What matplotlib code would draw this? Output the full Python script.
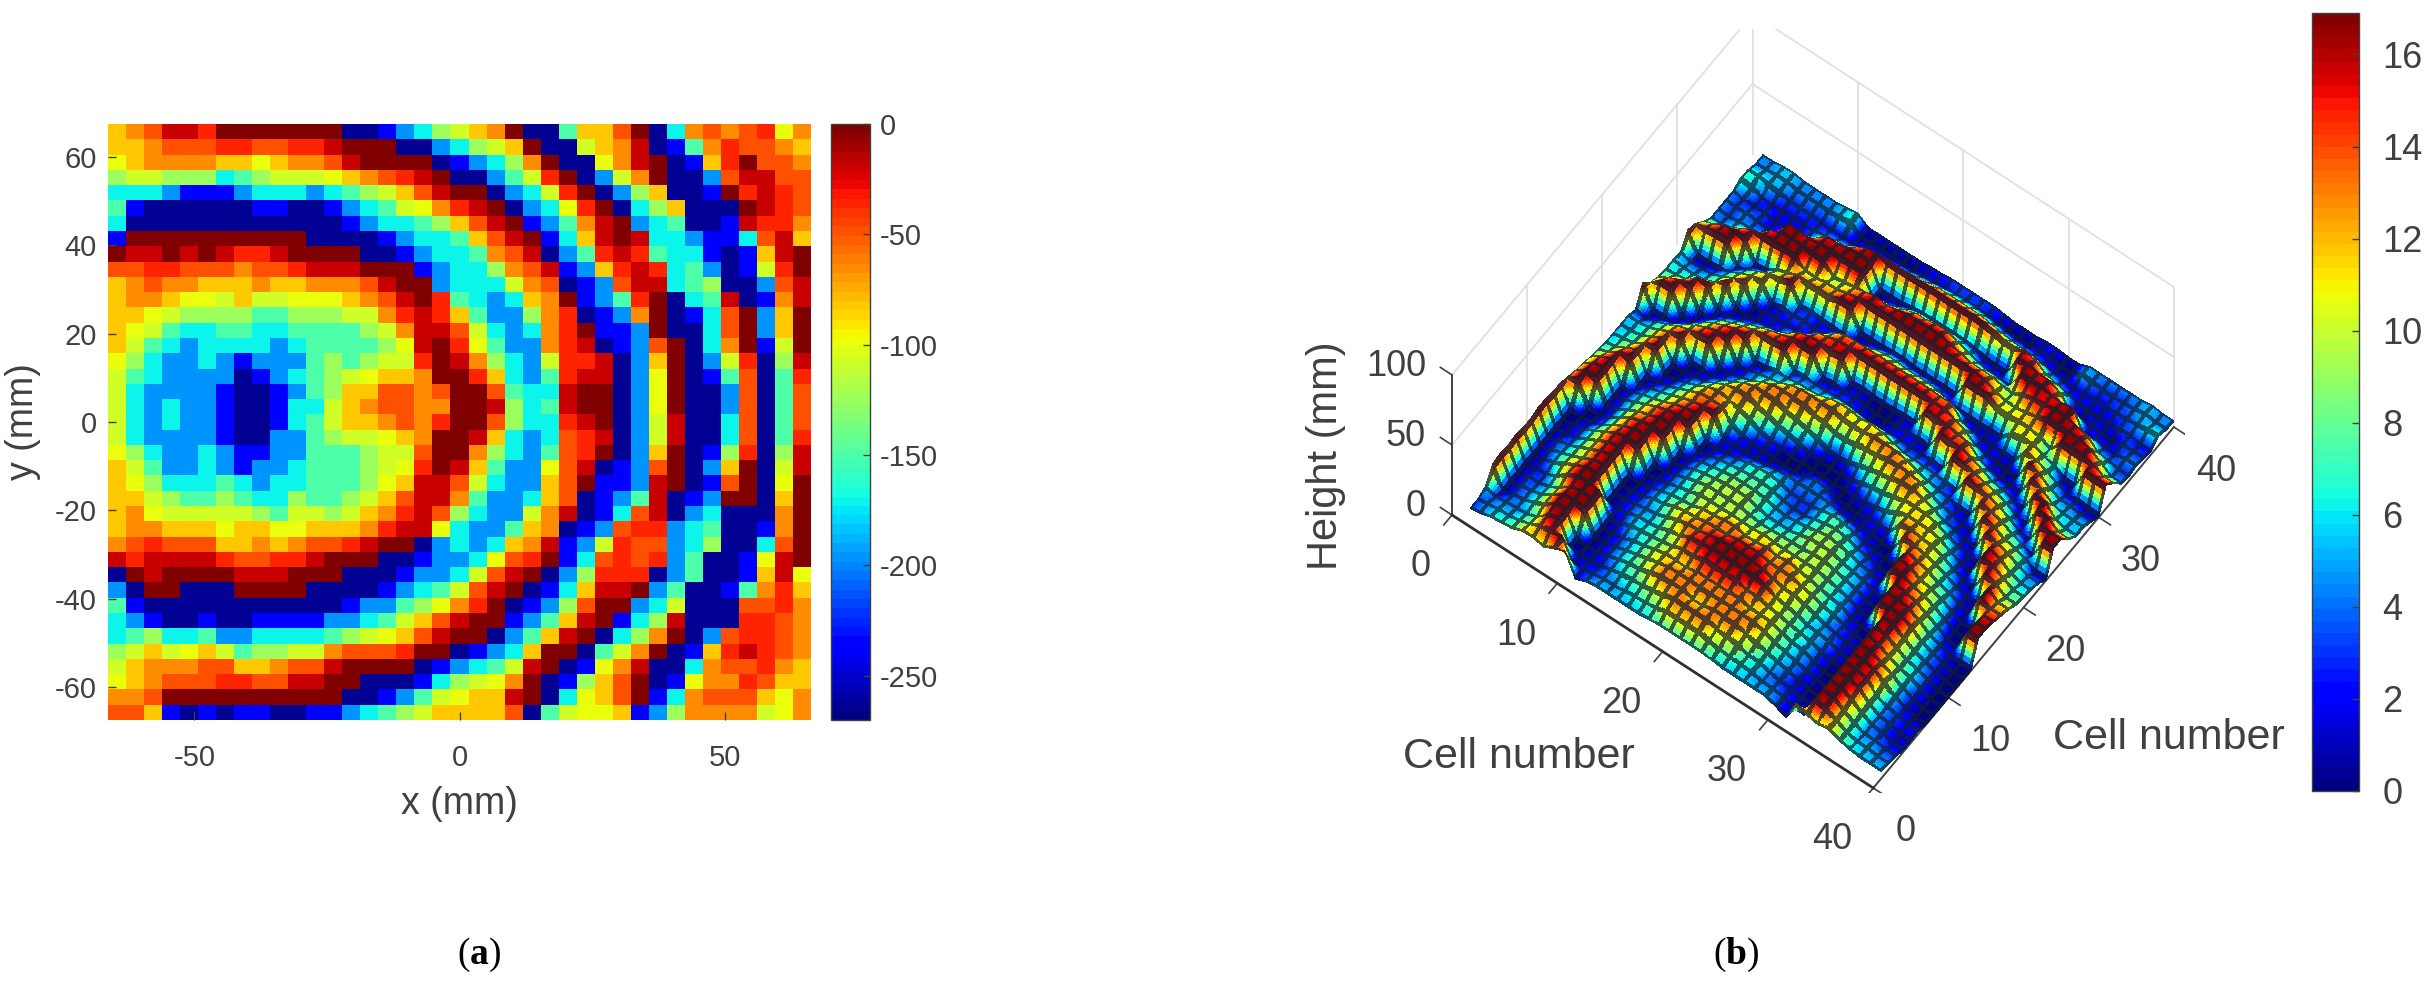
import numpy as np
import matplotlib
matplotlib.use("Agg")
import matplotlib.pyplot as plt
from matplotlib.cm import ScalarMappable
from matplotlib.colors import Normalize
from mpl_toolkits.mplot3d import proj3d

plt.rcParams['font.family'] = ['Liberation Sans', 'DejaVu Sans']
plt.rcParams['axes.unicode_minus'] = False
plt.rcParams['mathtext.fontset'] = 'custom'
plt.rcParams['mathtext.rm'] = 'Liberation Serif'
plt.rcParams['mathtext.bf'] = 'Liberation Serif:bold'

# Panel (a): cells, top row first. Code = colour band of the jet scale.
phase_rows = [
"89accbddddddd00123568" "9d00488ad039a9ab79",
"889aaabbaabbcddd00235" "68d00689c0149baa98",
"789999887899acdddd012" "359d0079cd018bdaa9",
"566555345666789abcd00" "246bd0269d002accaa",
"33321112333234568acdd" "0236bd0258001dbcba",
"4100000011001234679bc" "d0237bd0358000dcba",
"30000000000001233458a" "cd1249cd234001cbb9",
"1dddddddddd0000123348" "acd138cdc332113ac8",
"dccdcdcbbcdddd0012334" "9ac024bcb4331018cd",
"aabbaaa9aabcccddd1233" "59ac128bcb342016bd",
"89a99888988999acdd233" "369a012acc345002ac",
"899877686677789acdb43" "2389d124bd034c019c",
"8876555544555669bcb84" "2259b0129d013ad28d",
"87643344334444569cca6" "3239bd112d003ad28d",
"86432333323444457cdb7" "4229bc012ad039d16d",
"75322321222454566bdc9" "5326bbc028d026b05c",
"643222201234567889ddb" "8324bcc027d014a04b",
"632222100124588aa9add" "a433cdd027d002a04a",
"632322100133689aa99dd" "c534cdd027d002a04a",
"6323221001346889a9bdd" "a533bcd026c003a04a",
"632222100224566789ddc" "8323abc026c003a04b",
"75322321122444566add9" "5324abd028d015b05c",
"86422321223444567bdc8" "4227ac012ad028d06c",
"87533343233444578cca6" "3228ad112cd01ad07d",
"8865445433544568acc94" "2238a0124c012dd08d",
"8976666654665689bca53" "2269c013ac0230009d",
"899888788778889bcc732" "2489012abb2340019d",
"9abaaa88989aabcdd0232" "389c126baa235003ad",
"cbccccbaabbcddd001223" "7abd13abab240017cd",
"0dcddddcccddd00012236" "acd025bbb0240018c7",
"20dd000dddd000012346a" "cd0138ccd2400149b8",
"41000000000001224579b" "d0125add236000aab9",
"321001001111223468acd" "d1248cd135c000bba9",
"34533422333345678acdd" "0248cd0359d02abba9",
"5686786455669aaabdd01" "238dd0469d018bcba9",
"68999aa889aacdddd0123" "46cd0179c0039aab98",
"789aaabbaaccdd0001356" "79d0158ad01799ba88",
"99adddddddddd00124678" "8cd0378ad139aaa879",
"aa8101011001123456888" "8a0467781259999679",
]
phase_codes = "0123456789abcd"
phase_values = [-262, -238, -197, -170, -148, -124, -109, -100, -84, -65, -49, -34, -19, 0]

# Panel (b): heights at the 40 x 40 mesh nodes, first row is x = 1, each row runs y = 1..40.
height_rows = [
"335cdcdccddccba987555" "53d97665cb84444764" "4",
"4430000000000ddcb9765" "510da6530ca4333564" "4",
"654333223311" "00dddca87" "640dc8530dc6442355" "5",
"754443355433" "10000dcba" "9710dc641dda433245" "5",
"8757657988774333200dc" "ba500d9740dc521234" "4",
"a98aa9bbaaaa987653100" "db9510da840db32234" "4",
"abcddcddccccbba975310" "0cb9510ca81ddd2234" "4",
"9cddddddddddd" "cbb98642" "0dcb8300ba7ddd3324" "4",
"bd00ddd0000ddddcba973" "10dca5110b9ddc9425" "5",
"d010000111000dddcbba7" "310db8222db9ddc516" "6",
"121111233221000ddcbba" "6320ca3232b9ddc610" "1",
"43233355454332100dbab" "a541cb7233ba8dda30" "1",
"5445556556655542116ab" "b954dcb322ba9ddc40" "1",
"54677777897787542138a" "bb741dca31dbaddd40" "1",
"55789989aa89987531149" "bba53dcb91dcb00d50" "1",
"568aaa9abaa9998651137" "abb530ccb10dc30d60" "1",
"579bbabcbba9998762015" "9bb631dcb30db50d71" "2",
"68abbabccbb9998773004" "8ab9320db50dc82d81" "2",
"7abbbbcddbb9877654001" "5aba321db71dda3d92" "3",
"7ababbcddca9755434200" "38aa210db71dda3d93" "3",
"7ababbcddcaa754334400" "18a9100db60ddb3d93" "3",
"7abbbbcddcb9855334300" "39aa100db60ddb3d93" "3",
"79abbbbdcba9876554002" "5ab9211db60dc93d92" "3",
"68abbabcbbb9898772014" "8ab7221db50db72d81" "2",
"579abaaaaba9999861026" "9bb421dcb30da40c70" "1",
"5679aa99aa99998741137" "aba420ccb0dda30b50" "1",
"556788889988877421259" "bb842dcb40dca30b50" "1",
"544566757766654" "31029a" "ba540cb920da91dc41" "2",
"543445554554443100baa" "a743dcb311a98ddb31" "2",
"33223334332111000cbaa" "8431cb5212a9bdc720" "1",
"01101012210000ddcbaa9" "431db92129aacdc510" "1",
"c0000000000ddddcbaa95" "310ca5101aabcca315" "4",
"a" "dddddddddddd" "cbaa9853" "10cb9410ba9ddc1224" "4",
"9cddddddccddcba976421" "0dba620da85ddd0123" "4",
"aaabcccbaaaba98753100" "dba720db85ddc02123" "4",
"877888a987776543210dd" "b9720db740ddb31133" "4",
"654444556544310000dcb" "a840dd6410dc520334" "4",
"5543332233221000ddba8" "750dd7541dc9423345" "5",
"543112" "0000000" "ddcba875" "40dd95530da4343264" "4",
"543112" "0000000" "ddcba875" "40dd95530da4343264" "4",
]
height_codes = "0123456789abcd"
height_values = [0.0, 1.2, 2.1, 3.1, 4.3, 5.5, 6.5, 7.2, 8.2, 9.7, 11.2, 13.2, 15.2, 16.6]

x_ticks_a = [-50, 0, 50]
y_ticks_a = [-60, -40, -20, 0, 20, 40, 60]
cbar_ticks_a = [-250, -200, -150, -100, -50, 0]
cell_ticks = [0, 10, 20, 30, 40]
height_ticks = [0, 50, 100]
cbar_ticks_b = [0, 2, 4, 6, 8, 10, 12, 14, 16]

W, H = 2424, 986
TXT = '#404040'
fig = plt.figure(figsize=(W / 100, H / 100), dpi=100, facecolor='white')


def rect(x0, y0, x1, y1):
    return [x0 / W, 1 - y1 / H, (x1 - x0) / W, (y1 - y0) / H]


def put(px, py, s, **kw):
    kw.setdefault('color', TXT)
    return fig.text(px / W, 1 - py / H, s, **kw)


jet = plt.get_cmap('jet', 64)

# ---------- panel (a)
assert len(phase_rows) == 39 and all(len(r) == 39 for r in phase_rows)
lut_a = dict(zip(phase_codes, phase_values))
phase = np.array([[lut_a[c] for c in r] for r in phase_rows], float)
axa = fig.add_axes(rect(108, 124, 811, 720))
norm_a = Normalize(-270, 0)
axa.pcolormesh(np.linspace(-66.3, 66.3, 40), np.linspace(67.5, -67.5, 40), phase,
               cmap=jet, norm=norm_a)
axa.set_xlim(-66.3, 66.3)
axa.set_ylim(-67.5, 67.5)
axa.set_xticks(x_ticks_a)
axa.set_yticks(y_ticks_a)
axa.tick_params(direction='in', length=6, width=1, color=TXT, labelcolor=TXT, labelsize=21, pad=8)
axa.tick_params(axis='x', pad=17)
for s in axa.spines.values():
    s.set_visible(False)
axa.set_xlabel('x (mm)', fontsize=27, color=TXT, labelpad=10)
axa.set_ylabel('y (mm)', fontsize=27, color=TXT, labelpad=10)

caxa = fig.add_axes(rect(831, 124, 870, 720))
cba = fig.colorbar(ScalarMappable(norm_a, jet), cax=caxa, ticks=cbar_ticks_a)
cba.ax.tick_params(direction='in', length=5, width=1, color=TXT, labelcolor=TXT, labelsize=21, pad=7)
cba.ax.set_yticks(cbar_ticks_a, [str(t) for t in cbar_ticks_a])
cba.outline.set_edgecolor(TXT)
cba.outline.set_linewidth(1)

# ---------- panel (b)
assert len(height_rows) == 40
for r in height_rows:
    assert len(r) == 40, (r, len(r))
lut_b = dict(zip(height_codes, height_values))
Z = np.array([[lut_b[c] for c in r] for r in height_rows], float)

ax3 = fig.add_axes(rect(1300, 0, 2200, 900), projection='3d', computed_zorder=False,
                   proj_type='ortho')
ax3.set_xlim(0, 40)
ax3.set_ylim(0, 40)
ax3.set_zlim(0, 100)
ax3.view_init(elev=61.9, azim=-53.7)
ax3.set_box_aspect((522, 507, 297), zoom=1)
ax3.set_axis_off()
ax3.patch.set_alpha(0)


def to_px(x, y, z):
    X, Y, _ = proj3d.proj_transform(x, y, z, ax3.get_proj())
    dx, dy = ax3.transData.transform((X, Y))
    return np.array([dx, H - dy])


fig.canvas.draw()
S = 900 * 502.0 / np.linalg.norm(to_px(40, 0, 0) - to_px(0, 0, 0))
ax3.set_position(rect(1300, 0, 1300 + S, S))
fig.canvas.draw()
shift = np.array([1452.0, 515.0]) - to_px(0, 0, 0)
ax3.set_position(rect(1300 + shift[0], shift[1], 1300 + S + shift[0], S + shift[1]))
fig.canvas.draw()

# walls behind the surface
GRID = '#e0e0e0'
for zv in height_ticks[1:]:
    ax3.plot([0, 0], [0, 40], [zv, zv], color=GRID, lw=1.3, zorder=1)
    ax3.plot([0, 40], [40, 40], [zv, zv], color=GRID, lw=1.3, zorder=1)
for t in cell_ticks[1:]:
    ax3.plot([0, 0], [t, t], [0, 100], color=GRID, lw=1.3, zorder=1)
    ax3.plot([t, t], [40, 40], [0, 100], color=GRID, lw=1.3, zorder=1)

# axes lines and ticks
ax3.plot([0, 0], [0, 0], [0, 100], color=TXT, lw=1.4, zorder=1.5)
ax3.plot([40, 40], [0, 40], [0, 0], color=TXT, lw=1.4, zorder=1.5)
for t in cell_ticks:
    ax3.plot([t, t], [0, -1.1], [0, 0], color=TXT, lw=1.2, zorder=1.5)
    ax3.plot([40, 41.1], [t, t], [0, 0], color=TXT, lw=1.2, zorder=1.5)
for t in height_ticks:
    ax3.plot([0, -1.1], [0, 0], [t, t], color=TXT, lw=1.2, zorder=1.5)

# mesh surface: the mesh lines and a colour blend across each facet
LINE = .17
sub = np.array([0, LINE, .34, .5, .66, 1 - LINE])
n = Z.shape[0]
fine = np.concatenate([k + sub for k in range(n - 1)] + [[n - 1.0]])
i0 = np.minimum(fine.astype(int), n - 2)
f = fine - i0


def blend(I0, FI, J0, FJ):
    return ((1 - FI)[:, None] * (1 - FJ)[None, :] * Z[np.ix_(I0, J0)]
            + FI[:, None] * (1 - FJ)[None, :] * Z[np.ix_(I0 + 1, J0)]
            + (1 - FI)[:, None] * FJ[None, :] * Z[np.ix_(I0, J0 + 1)]
            + FI[:, None] * FJ[None, :] * Z[np.ix_(I0 + 1, J0 + 1)])


Zf = blend(i0, f, i0, f)
mid = 0.5 * (fine[:-1] + fine[1:])
m0 = np.minimum(mid.astype(int), n - 2)
mf = mid - m0
Zm = blend(m0, mf, m0, mf)
norm_b = Normalize(0, 16.9)
colors = jet(norm_b(Zm))
is_line = (mf < LINE) | (mf > 1 - LINE)
MESH = np.array(matplotlib.colors.to_rgba('#0e2030'))
mask = is_line[:, None] | is_line[None, :]
colors[mask] = 0.72 * MESH + 0.28 * colors[mask]
Xg, Yg = np.meshgrid(fine + 1, fine + 1, indexing='ij')
ax3.plot_surface(Xg, Yg, Zf, facecolors=colors, rstride=1, cstride=1, shade=False,
                 linewidth=0, antialiased=False, zorder=2)
ax3.plot([0, 40], [0, 0], [0, 0], color='#303030', lw=2, zorder=3)

ax3.set_xlim(0, 40)
ax3.set_ylim(0, 40)
ax3.set_zlim(0, 100)

FS = 26
for t in cell_ticks:
    p = to_px(t, 0, 0)
    put(p[0] - 21, p[1] + 52, str(t), ha='right', va='center', fontsize=FS)
    p = to_px(40, t, 0)
    put(p[0] + 22, p[1] + 44, str(t), ha='left', va='center', fontsize=FS)
for t in height_ticks:
    p = to_px(0, 0, t)
    put(p[0] - 26, p[1] - 8, str(t), ha='right', va='center', fontsize=FS)
put(1519, 757, 'Cell number', ha='center', va='center', fontsize=31)
put(2169, 738, 'Cell number', ha='center', va='center', fontsize=31)
put(1326, 456, 'Height (mm)', ha='center', va='center', rotation=90, fontsize=30)

caxb = fig.add_axes(rect(2312, 13, 2359, 791))
cbb = fig.colorbar(ScalarMappable(norm_b, jet), cax=caxb, ticks=cbar_ticks_b)
cbb.ax.tick_params(direction='in', length=5, width=1, color=TXT, labelcolor=TXT, labelsize=26, pad=17)
cbb.outline.set_edgecolor(TXT)
cbb.outline.set_linewidth(1)

put(479, 955, r'($\mathbf{a}$)', ha='center', va='center', fontsize=27, color='black',
    family='Liberation Serif')
put(1736, 955, r'($\mathbf{b}$)', ha='center', va='center', fontsize=27, color='black',
    family='Liberation Serif')

fig.savefig('out.png', dpi=100)
